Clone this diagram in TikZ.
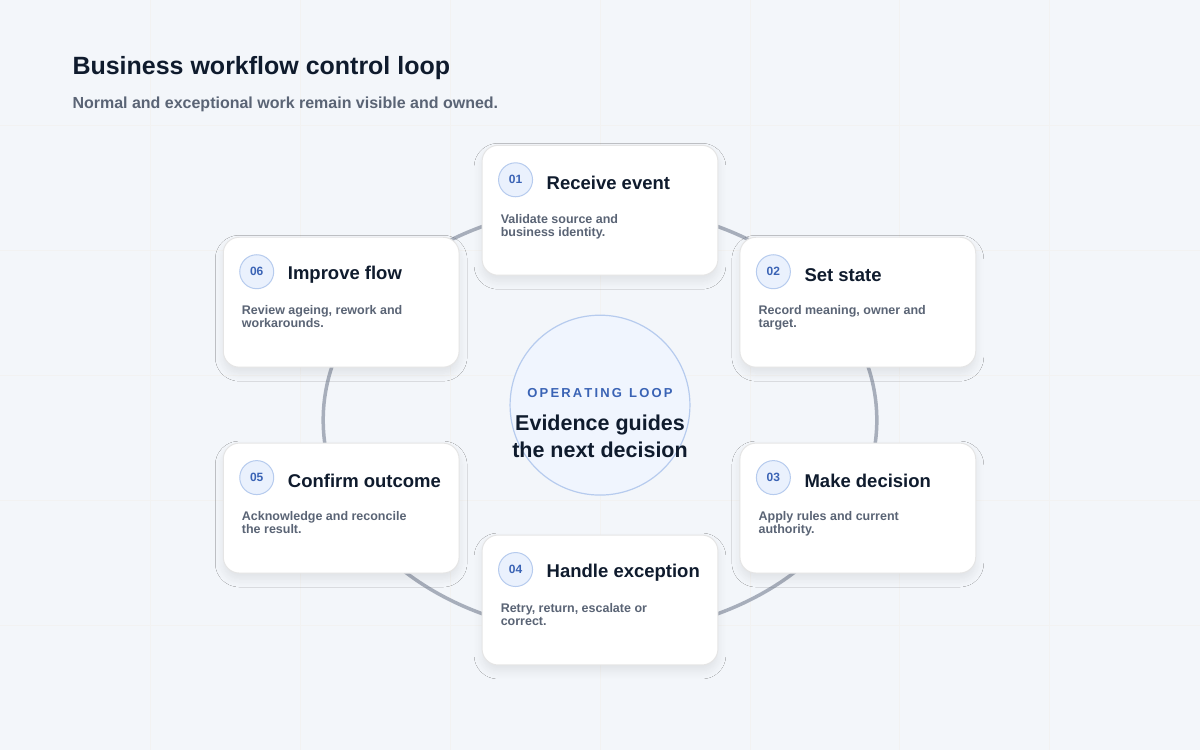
\documentclass[tikz,border=0pt]{standalone}
\usepackage{fontspec}
\setmainfont{Liberation Sans}
\usetikzlibrary{shadows.blur,shapes.geometric}
\definecolor{bg}{HTML}{F3F6FA}
\definecolor{ink}{HTML}{0F1B2D}
\definecolor{sub}{HTML}{5A6475}
\definecolor{ring}{HTML}{A7AEBB}
\definecolor{blue}{HTML}{3A63B5}
\definecolor{badge}{HTML}{EAF1FD}
\definecolor{badgeline}{HTML}{B6CBEE}
\begin{document}
\begin{tikzpicture}[x=1pt,y=-1pt,
 card/.style={draw=black!10,line width=1pt,fill=white,rounded corners=16pt,minimum width=236pt,minimum height=130pt,blur shadow={shadow blur steps=8,shadow blur radius=8pt,shadow xshift=0pt,shadow yshift=-6pt,shadow opacity=8}},
 bdg/.style={circle,draw=badgeline,fill=badge,line width=1pt,minimum size=34pt,inner sep=0pt,font=\bfseries\fontsize{12}{12}\selectfont,text=blue},
 ttl/.style={anchor=west,font=\bfseries\fontsize{18.5}{20}\selectfont,text=ink,inner sep=0pt},
 dsc/.style={anchor=north west,align=left,font=\bfseries\fontsize{12.5}{13}\selectfont,text=sub,inner sep=0pt}]
\fill[bg] (0,0) rectangle (1200,750);
\foreach \x in {150,300,...,1050} \draw[black!5,line width=0.8pt] (\x,0) -- (\x,750);
\foreach \y in {125,250,...,625} \draw[black!5,line width=0.8pt] (0,\y) -- (1200,\y);
\useasboundingbox (0,0) rectangle (1200,750);
\node[anchor=west,inner sep=0pt,font=\bfseries\fontsize{25}{26}\selectfont,text=ink] (title) at (72,68) {Business workflow control loop};
\node[anchor=west,inner sep=0pt,font=\bfseries\fontsize{16}{18}\selectfont,text=sub] (subt) at (72,104) {Normal and exceptional work remain visible and owned.};
\node[ellipse,minimum width=554pt,minimum height=428pt,draw=ring,line width=3.5pt] (ring) at (600,420) {};
\node[circle,minimum size=180pt,draw=badgeline,fill=badge!70,line width=1.2pt] (hub) at (600,405) {};
\node[font=\bfseries\fontsize{13}{13}\selectfont,text=blue] (hubk) at (600,393) {O\,P\,E\,R\,A\,T\,I\,N\,G\ \ L\,O\,O\,P};
\node[align=center,font=\bfseries\fontsize{21.5}{27}\selectfont,text=ink] (hubt) at (600,436) {Evidence guides\\the next decision};
\foreach \n/\cx/\cy/\t/\da/\db in {
 01/600/210/Receive event/Validate source and/business identity.,
 02/858/302/Set state/{Record meaning, owner and}/target.,
 03/858/508/Make decision/Apply rules and current/authority.,
 04/600/600/Handle exception/{Retry, return, escalate or}/correct.,
 05/341/508/Confirm outcome/Acknowledge and reconcile/the result.,
 06/341/302/Improve flow/{Review ageing, rework and}/workarounds.}{
 \node[card] (c\n) at (\cx,\cy) {};
 \node[bdg] (b\n) at ([xshift=34pt,yshift=-35pt]c\n.north west) {\n};
 \node[ttl] (t\n) at ([xshift=31pt,yshift=-3pt]b\n.center) {\t};
 \node[dsc] (d\n) at ([xshift=19pt,yshift=-69pt]c\n.north west) {\da\\\db};
}
\end{tikzpicture}
\end{document}
